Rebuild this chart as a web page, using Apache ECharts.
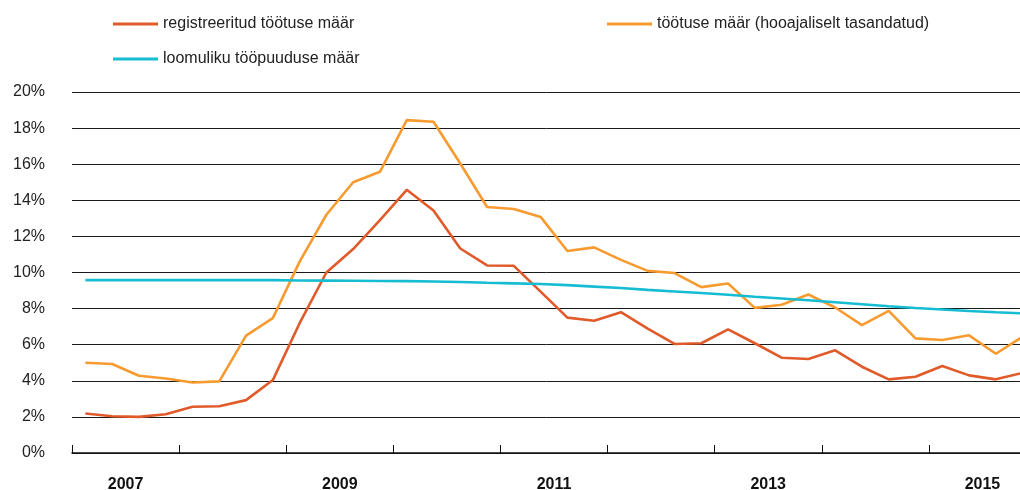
<!DOCTYPE html>
<html>
<head>
<meta charset="utf-8">
<script src="https://cdn.jsdelivr.net/npm/echarts@6/dist/echarts.min.js"></script>
<style>
  html, body { margin: 0; padding: 0; background: #fff; }
  #chart { width: 1020px; height: 490px; }
</style>
</head>
<body>
<div id="chart"></div>
<script>
// kvartalid 2007 I – 2015 IV
const quarters = [];
const years = ['2007', '2008', '2009', '2010', '2011', '2012', '2013', '2014', '2015'];
years.forEach(y => { for (let q = 1; q <= 4; q++) quarters.push(y + 'Q' + q); });

// registreeritud töötuse määr
const registered = [
  2.19, 2.04, 2.00, 2.15,
  2.56, 2.59, 2.93, 4.04,
  7.19, 10.0, 11.3, 12.9,
  14.58, 13.44, 11.33, 10.39,
  10.37, 8.94, 7.50, 7.33,
  7.80, 6.89, 6.04, 6.08,
  6.85, 6.08, 5.28, 5.21,
  5.69, 4.78, 4.08, 4.22,
  4.82, 4.30, 4.08, 4.44
];
// töötuse määr (hooajaliselt tasandatud)
const unemployment = [
  5.00, 4.93, 4.28, 4.13,
  3.91, 3.97, 6.50, 7.47,
  10.6, 13.2, 15.0, 15.58,
  18.44, 18.35, 16.04, 13.63,
  13.52, 13.08, 11.19, 11.39,
  10.70, 10.09, 9.97, 9.19,
  9.39, 8.04, 8.21, 8.78,
  8.06, 7.08, 7.87, 6.35,
  6.26, 6.52, 5.50, 6.44
];
// loomuliku tööpuuduse määr
const natural = [
  9.58, 9.58, 9.58, 9.58,
  9.58, 9.58, 9.58, 9.58,
  9.56, 9.55, 9.54, 9.53,
  9.52, 9.50, 9.47, 9.43,
  9.40, 9.36, 9.30, 9.22,
  9.14, 9.04, 8.95, 8.86,
  8.77, 8.66, 8.56, 8.46,
  8.35, 8.24, 8.13, 8.03,
  7.95, 7.87, 7.80, 7.74
];

const font = '"Liberation Sans", Arial, Helvetica, sans-serif';
const names = ['registreeritud töötuse määr', 'töötuse määr (hooajaliselt tasandatud)', 'loomuliku tööpuuduse määr'];
const colors = ['#E05A2A', '#F79B30', '#16BDD2'];

const chart = echarts.init(document.getElementById('chart'));

const legendBase = {
  icon: 'rect',
  itemWidth: 45,
  itemHeight: 3,
  textStyle: { fontSize: 16, color: '#222', fontFamily: font }
};

chart.setOption({
  animation: false,
  color: colors,
  legend: [
    Object.assign({ data: [names[0]], left: 108, top: 11 }, legendBase),
    Object.assign({ data: [names[1]], left: 602, top: 11 }, legendBase),
    Object.assign({ data: [names[2]], left: 108, top: 46 }, legendBase)
  ],
  // telg ulatub pildi servast veidi üle, nagu originaalis
  grid: { left: 72, right: -16, top: 92, bottom: 37, outerBoundsMode: 'none', containLabel: false },
  xAxis: [
    {
      type: 'category',
      position: 'top',
      data: quarters,
      boundaryGap: true,
      show: false
    },
    {
      type: 'category',
      position: 'bottom',
      data: years,
      boundaryGap: true,
      axisLine: { show: true, lineStyle: { color: '#111', width: 1.5 } },
      axisTick: { show: true, interval: 0, inside: true, length: 8, lineStyle: { color: '#111', width: 1 } },
      axisLabel: {
        interval: 1,
        margin: 24,
        fontSize: 16,
        fontWeight: 'bold',
        color: '#111',
        fontFamily: font
      },
      splitLine: { show: false }
    }
  ],
  yAxis: {
    type: 'value',
    min: 0,
    max: 20,
    interval: 2,
    axisLine: { show: false },
    axisTick: { show: false },
    axisLabel: {
      formatter: '{value}%',
      margin: 27,
      fontSize: 16,
      color: '#222',
      fontFamily: font
    },
    splitLine: { lineStyle: { color: '#1a1a1a', width: 1 } }
  },
  series: [
    { name: names[0], type: 'line', xAxisIndex: 0, data: registered },
    { name: names[1], type: 'line', xAxisIndex: 0, data: unemployment },
    { name: names[2], type: 'line', xAxisIndex: 0, data: natural }
  ].map((s, i) => Object.assign(s, {
    symbol: 'none',
    smooth: false,
    lineStyle: { width: 2.6, color: colors[i] },
    itemStyle: { color: colors[i] }
  }))
});
</script>
</body>
</html>
